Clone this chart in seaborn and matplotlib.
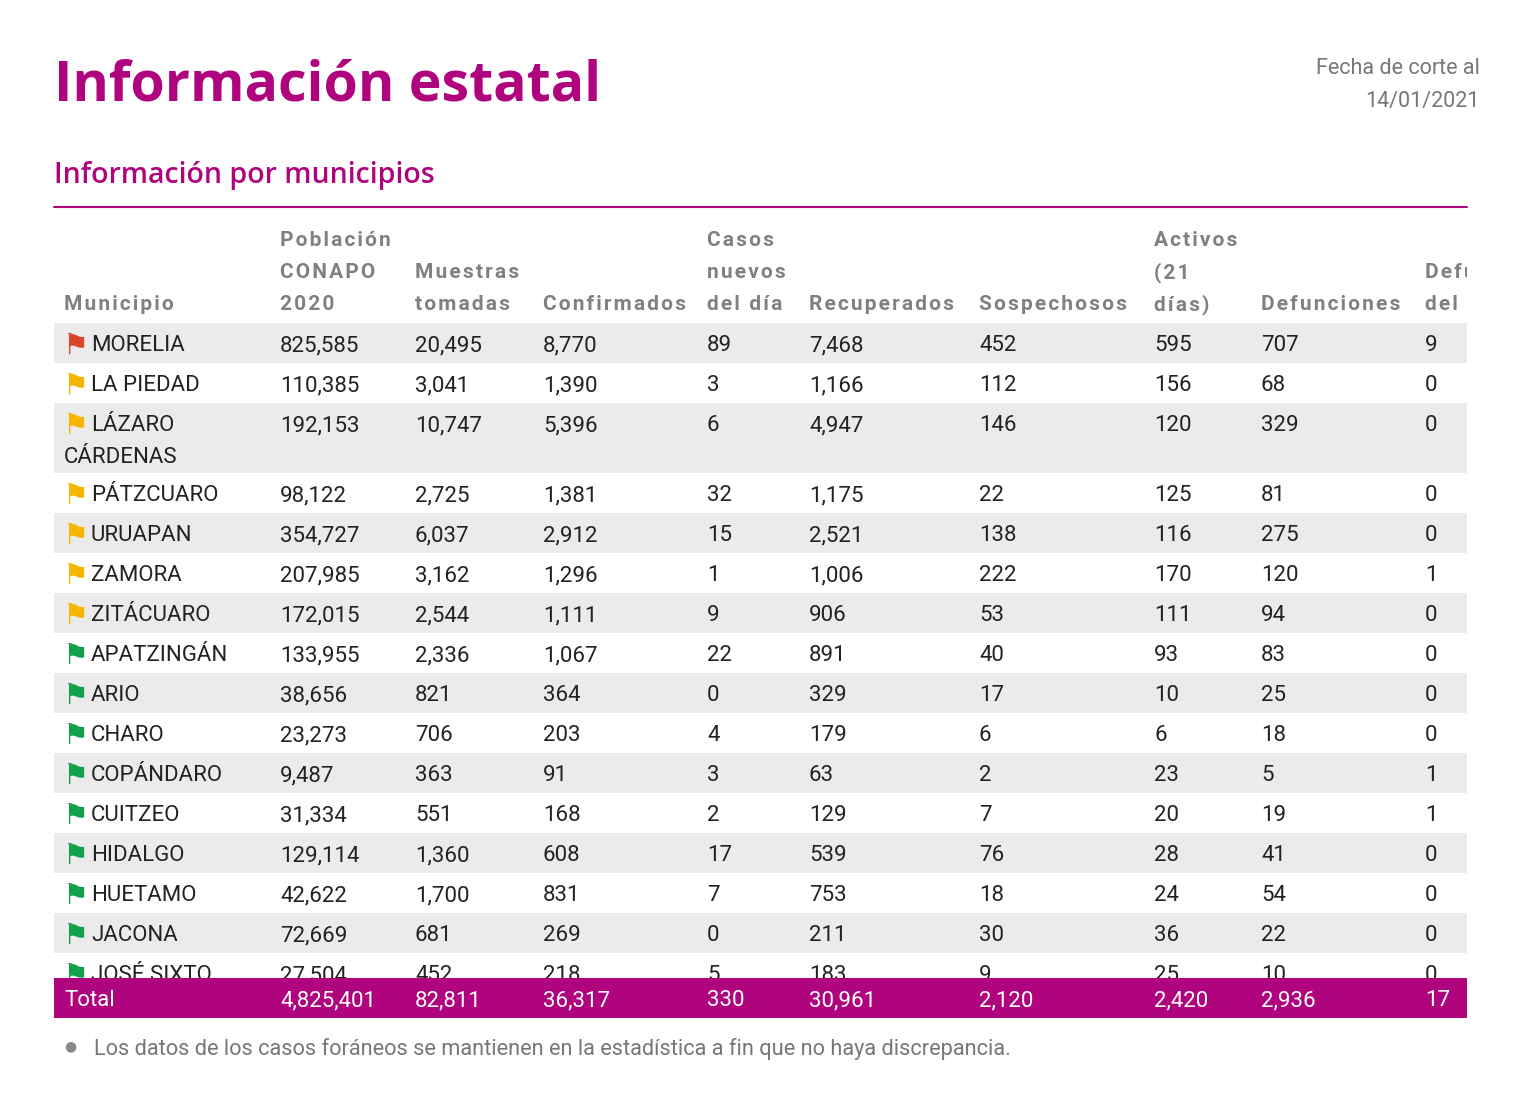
import matplotlib
matplotlib.use("Agg")
import matplotlib.pyplot as plt
import seaborn as sns
from matplotlib.patches import Rectangle

sns.set_theme(style="white")
plt.rcParams['font.family'] = ['Roboto', 'DejaVu Sans']

headers = [["Municipio"], ["Población", "CONAPO", "2020"], ["Muestras", "tomadas"], ["Confirmados"],
           ["Casos", "nuevos", "del día"], ["Recuperados"], ["Sospechosos"], ["Activos", "(21", "días)"],
           ["Defunciones"], ["Defunciones", "del"]]
municipios = ["MORELIA", "LA PIEDAD", "LÁZARO\nCÁRDENAS", "PÁTZCUARO", "URUAPAN", "ZAMORA", "ZITÁCUARO",
              "APATZINGÁN", "ARIO", "CHARO", "COPÁNDARO", "CUITZEO", "HIDALGO", "HUETAMO", "JACONA", "JOSÉ SIXTO"]
semaforo = ["red", "yellow", "yellow", "yellow", "yellow", "yellow", "yellow", "green", "green", "green",
            "green", "green", "green", "green", "green", "green"]
poblacion = ["825,585", "110,385", "192,153", "98,122", "354,727", "207,985", "172,015", "133,955", "38,656",
             "23,273", "9,487", "31,334", "129,114", "42,622", "72,669", "27,504"]
muestras = ["20,495", "3,041", "10,747", "2,725", "6,037", "3,162", "2,544", "2,336", "821", "706", "363",
            "551", "1,360", "1,700", "681", "452"]
confirmados = ["8,770", "1,390", "5,396", "1,381", "2,912", "1,296", "1,111", "1,067", "364", "203", "91",
               "168", "608", "831", "269", "218"]
nuevos = ["89", "3", "6", "32", "15", "1", "9", "22", "0", "4", "3", "2", "17", "7", "0", "5"]
recuperados = ["7,468", "1,166", "4,947", "1,175", "2,521", "1,006", "906", "891", "329", "179", "63", "129",
               "539", "753", "211", "183"]
sospechosos = ["452", "112", "146", "22", "138", "222", "53", "40", "17", "6", "2", "7", "76", "18", "30", "9"]
activos = ["595", "156", "120", "125", "116", "170", "111", "93", "10", "6", "23", "20", "28", "24", "36", "25"]
defunciones = ["707", "68", "329", "81", "275", "120", "94", "83", "25", "18", "5", "19", "41", "54", "22", "10"]
def_dia = ["9", "0", "0", "0", "0", "1", "0", "0", "0", "0", "1", "1", "0", "0", "0", "0"]
totales = ["Total", "4,825,401", "82,811", "36,317", "330", "30,961", "2,120", "2,420", "2,936", "17"]

MAG = "#B0047E"
flag_colors = {"red": "#D9452B", "yellow": "#F7B500", "green": "#12A04A"}
colx = [64, 280, 415, 543, 707, 809, 979, 1154, 1261, 1425]
FS = 16

fig = plt.figure(figsize=(15.36, 10.98), dpi=100)
ax = fig.add_axes([0, 0, 1, 1])
ax.set_xlim(0, 1536); ax.set_ylim(1098, 0); ax.axis("off")

ax.text(54, 86, "Información estatal", fontsize=40, fontweight="bold", color=MAG,
        family=["Open Sans", "DejaVu Sans"], va="center")
ax.text(1480, 69, "Fecha de corte al", fontsize=15.5, color="#777777", ha="right", va="center")
ax.text(1480, 101, "14/01/2021", fontsize=15.5, color="#777777", ha="right", va="center")
ax.text(54, 175, "Información por municipios", fontsize=20.5, color=MAG, fontweight="semibold",
        family=["Open Sans", "DejaVu Sans"], va="center")
ax.plot([54, 1467], [207, 207], color=MAG, lw=1.5)

for x, h in zip(colx, headers):
    n = len(h)
    for i, line in enumerate(h):
        y = 302 - (n - 1 - i) * 32
        spaced = "\u200a".join(line)
        ax.text(x, y, spaced, fontsize=15, color="#808080", fontweight="bold", va="center_baseline", zorder=3)

cols = [poblacion, muestras, confirmados, nuevos, recuperados, sospechosos, activos, defunciones, def_dia]
y = 323
for i, name in enumerate(municipios):
    h = 70 if "\n" in name else 40
    if i % 2 == 0:
        ax.add_patch(Rectangle((54, y), 1413, h, color="#EBEBEB", lw=0, zorder=1))
    ty = y + 20
    ax.text(75, ty, "⚑", fontsize=21, color=flag_colors[semaforo[i]], family=["DejaVu Sans"],
            ha="center", va="center_baseline", zorder=2)
    parts = name.split("\n")
    ax.text(91, ty, parts[0], fontsize=FS, color="#222222", va="center_baseline", zorder=2)
    if len(parts) > 1:
        ax.text(64, ty + 32, parts[1], fontsize=FS, color="#222222", va="center_baseline", zorder=2)
    for x, c in zip(colx[1:], cols):
        ax.text(x, ty, c[i], fontsize=FS, color="#222222", va="center_baseline", zorder=2)
    y += h

ax.add_patch(Rectangle((54, 978), 1413, 40, color=MAG, lw=0, zorder=4))
for x, t in zip(colx, totales):
    ax.text(x, 998, t, fontsize=FS, color="white", va="center_baseline", zorder=5)
ax.add_patch(Rectangle((1467, 215), 70, 810, color="white", lw=0, zorder=6))

ax.text(64, 1046, "●", fontsize=10, color="#888888", va="center")
ax.text(94, 1046, "Los datos de los casos foráneos se mantienen en la estadística a fin que no haya discrepancia.",
        fontsize=15.7, color="#777777", va="center_baseline")

fig.savefig("out.png", dpi=100)
